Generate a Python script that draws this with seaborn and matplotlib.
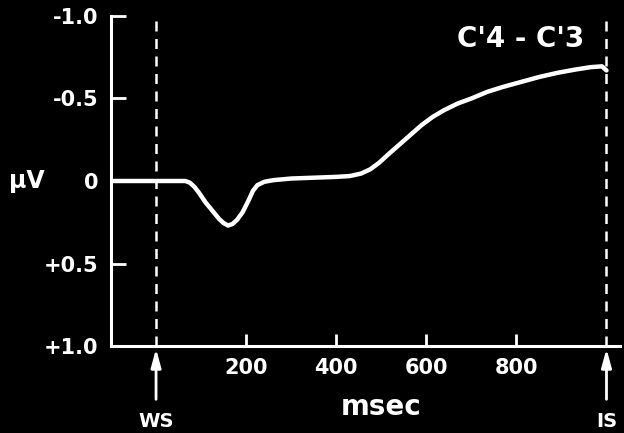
import numpy as np
import pandas as pd
import matplotlib
matplotlib.use('Agg')
import matplotlib.pyplot as plt
import seaborn as sns

# ERP trace (msec, microvolts; negative is drawn up)
msec = [-100, 0, 55, 65, 75, 85, 95, 110, 125, 140, 150, 160, 170, 180, 192, 205,
        215, 225, 240, 260, 300, 350, 400, 430, 455, 475, 495, 515, 540, 565, 590,
        615, 640, 670, 700, 735, 770, 810, 850, 890, 930, 965, 990, 1000]
uv = [0.0, 0.0, 0.0, 0.0, 0.01, 0.035, 0.07, 0.13, 0.18, 0.23, 0.255, 0.27, 0.26,
      0.235, 0.19, 0.12, 0.06, 0.025, 0.005, -0.005, -0.015, -0.02, -0.025, -0.03,
      -0.045, -0.07, -0.11, -0.16, -0.22, -0.28, -0.34, -0.39, -0.43, -0.47, -0.5,
      -0.54, -0.57, -0.6, -0.63, -0.655, -0.675, -0.69, -0.695, -0.67]

yticks = [-1.0, -0.5, 0, 0.5, 1.0]
ytick_labels = ['-1.0', '-0.5', '0', '+0.5', '+1.0']
xticks = [200, 400, 600, 800]
markers = {'WS': 0, 'IS': 1000}
trace_name = "C'4 - C'3"

df = pd.DataFrame({'msec': msec, 'uv': uv})

sns.set_style('dark')
plt.rcParams['font.family'] = ['DejaVu Sans']
plt.rcParams['font.weight'] = 'bold'

fig = plt.figure(figsize=(6.24, 4.33), dpi=100, facecolor='black')
ax = fig.add_axes([111/624, 1 - 346/433, (620 - 111)/624, 330/433])
ax.set_facecolor('black')

sns.lineplot(data=df, x='msec', y='uv', color='white', lw=3.2, ax=ax)

for name, pos in markers.items():
    ax.axvline(pos, color='white', lw=1.8, ls=(0, (4, 3)))
    ax.annotate('', xy=(pos, 0), xytext=(pos, -0.17),
                xycoords=('data', 'axes fraction'), textcoords=('data', 'axes fraction'),
                arrowprops=dict(arrowstyle='-|>,head_width=0.3,head_length=1.1',
                                color='white', lw=2), annotation_clip=False)
    ax.text(pos, -0.2, name, color='white', fontsize=14, fontweight='bold',
            ha='center', va='top', transform=ax.get_xaxis_transform())

ax.set_xlim(-100, 1030)
ax.set_ylim(1.0, -1.0)
ax.set_xticks(xticks)
ax.set_xticklabels([str(t) for t in xticks])
ax.set_yticks(yticks)
ax.set_yticklabels(ytick_labels)
ax.tick_params(axis='both', direction='in', colors='white', width=2,
               labelsize=15, labelcolor='white', bottom=True, left=True)
ax.tick_params(axis='x', length=9, pad=9)
ax.tick_params(axis='y', length=11, pad=9)
ax.grid(False)

for side in ['top', 'right']:
    ax.spines[side].set_visible(False)
for side in ['left', 'bottom']:
    ax.spines[side].set_visible(True)
    ax.spines[side].set_color('white')
    ax.spines[side].set_linewidth(2.2)

ax.set_xlabel('')
ax.set_ylabel('')
ax.text(500, -0.185, 'msec', color='white', fontsize=20, fontweight='bold',
        ha='center', va='center', transform=ax.get_xaxis_transform())
ax.text(-0.165, 0, 'µV', color='white', fontsize=17, fontweight='bold',
        ha='center', va='center', transform=ax.get_yaxis_transform())
ax.text(810, -0.86, trace_name, color='white', fontsize=20, fontweight='bold',
        ha='center', va='center')

fig.savefig('out.png', dpi=100, facecolor='black')
